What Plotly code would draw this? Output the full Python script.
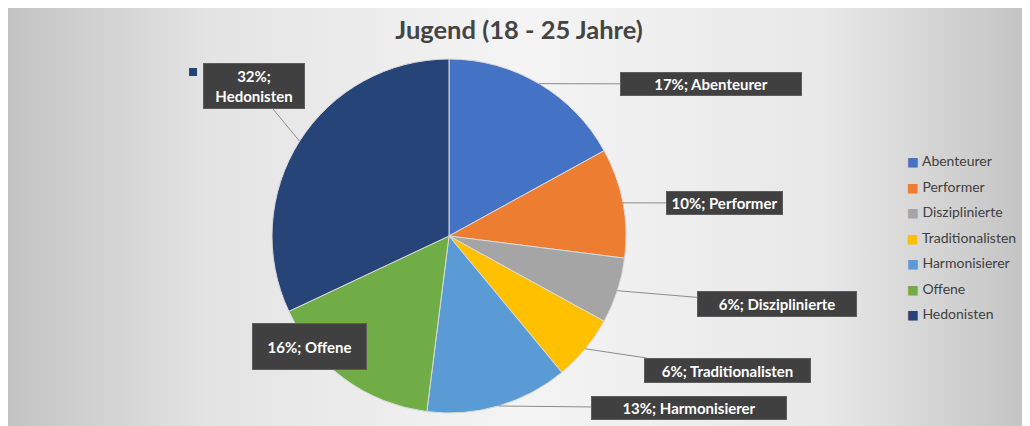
"""Kreisdiagramm Jugend (18 - 25 Jahre) - plotly."""
import math
import plotly.graph_objects as go

# Seite hat 8px Rand -> Figur etwas kleiner, Koordinaten relativ zur Figur
W, H = 1022, 418

LABELS = ['Abenteurer', 'Performer', 'Disziplinierte', 'Traditionalisten',
          'Harmonisierer', 'Offene', 'Hedonisten']
VALUES = [17, 10, 6, 6, 13, 16, 32]
COLORS = ['#4472C4', '#ED7D31', '#A5A5A5', '#FFC000', '#5B9BD5', '#70AD47', '#264478']

FONT = 'Lato, Carlito, Calibri, sans-serif'

# Kreis in Pixeln (Mitte, Radius)
CX, CY, R = 441, 228, 177

# Label-Kästen: Mittelpunkt (px), Breite, Höhe
BOXES = {
    'Abenteurer':       dict(cx=703, cy=76,  w=182, h=24),
    'Performer':        dict(cx=716, cy=195, w=117, h=24),
    'Disziplinierte':   dict(cx=769, cy=296, w=160, h=26),
    'Traditionalisten': dict(cx=719, cy=362, w=167, h=25),
    'Harmonisierer':    dict(cx=681, cy=400, w=196, h=24),
    'Offene':           dict(cx=244, cy=362, w=115, h=47, noline=True),
    'Hedonisten':       dict(cx=246, cy=78,  w=102, h=46, br=True),
}

fig = go.Figure()

# Hintergrund mit Verlauf
fig.add_trace(go.Scatter(
    x=[0, 1, 1, 0, 0], y=[0, 0, 1, 1, 0], mode='lines', line=dict(width=0),
    fill='toself',
    fillgradient=dict(type='horizontal', colorscale=[
        [0, '#c3c3c3'], [0.2, '#e4e4e4'], [0.5, '#f4f4f4'],
        [0.8, '#e8e8e8'], [1, '#c3c3c3']]),
    hoverinfo='skip', showlegend=False,
))

# Kreis
fig.add_trace(go.Pie(
    labels=LABELS, values=VALUES, sort=False, direction='clockwise',
    marker=dict(colors=COLORS, line=dict(color='#d9d9d9', width=1)),
    textinfo='none', hoverinfo='skip', showlegend=False,
    domain=dict(x=[(CX - R) / W, (CX + R) / W],
                y=[1 - (CY + R) / H, 1 - (CY - R) / H]),
))

# Legende (Symbol als Text, damit es dicht am Namen sitzt)
for lab, col in zip(LABELS, COLORS):
    fig.add_trace(go.Scatter(
        x=[None], y=[None], mode='none', legendgroup=lab,
        name=f'<span style="color:{col};font-family:DejaVu Sans;font-size:12.5px">■</span> {lab}',
    ))

# Datenbeschriftungen mit Führungslinien
total = sum(VALUES)
cum = 0
annotations = []
shapes = [dict(type='rect', xref='paper', yref='paper', layer='below',
               x0=894 / W, x1=1017 / W, y0=1 - 318 / H, y1=1 - 132 / H,
               fillcolor='rgba(245,245,245,0.45)', line=dict(width=0))]
for lab, val, col in zip(LABELS, VALUES, COLORS):
    mid = (cum + val / 2) / total * 2 * math.pi
    cum += val
    px = CX + R * math.sin(mid)
    py = CY - R * math.cos(mid)
    b = BOXES[lab]
    pct = f'{round(val / total * 100)}%;'
    text = f'{pct}<br>{lab}' if b.get('br') else f'{pct} {lab}'
    ann = dict(
        x=px / W, y=1 - py / H, xref='paper', yref='paper',
        text=f'<b>{text}</b>', font=dict(family=FONT, size=15, color='white'),
        bgcolor='#404040', bordercolor='#5c5c5c', borderwidth=1, borderpad=1,
        width=b['w'] - 4, height=b['h'] - 4, align='center', valign='middle',
    )
    if b.get('noline'):
        ann.update(showarrow=False, xshift=b['cx'] - px, yshift=py - b['cy'])
    else:
        ann.update(showarrow=True, arrowhead=0, arrowwidth=1, arrowcolor='#8c8c8c',
                   axref='pixel', ayref='pixel', ax=b['cx'] - px, ay=b['cy'] - py)
    annotations.append(ann)
    if b.get('br'):
        # Legendensymbol links oben neben dem Label
        kx = b['cx'] - b['w'] / 2 - 10
        ky = b['cy'] - b['h'] / 2 + 9
        shapes.append(dict(type='rect', xref='paper', yref='paper',
                           x0=(kx - 4) / W, x1=(kx + 4) / W,
                           y0=1 - (ky + 4) / H, y1=1 - (ky - 4) / H,
                           fillcolor=col, line=dict(width=0)))

fig.update_layout(
    width=W, height=H,
    margin=dict(l=0, r=0, t=0, b=0),
    paper_bgcolor='#e6e6e6', plot_bgcolor='rgba(0,0,0,0)',
    font=dict(family=FONT, size=14, color='#404040'),
    title=dict(text='<b>Jugend (18 - 25 Jahre)</b>', x=0.5, xanchor='center',
               y=1 - 22 / H, yanchor='middle',
               font=dict(family=FONT, size=25.5, color='#444444')),
    xaxis=dict(range=[0, 1], visible=False, fixedrange=True, domain=[0, 1]),
    yaxis=dict(range=[0, 1], visible=False, fixedrange=True, domain=[0, 1]),
    legend=dict(x=859 / W, y=1 - 137 / H, xanchor='left', yanchor='top',
                bgcolor='rgba(0,0,0,0)', tracegroupgap=4.3,
                font=dict(family=FONT, size=14, color='#404040')),
    shapes=shapes,
    annotations=annotations,
    hovermode=False,
)

fig.write_html('out.html')
